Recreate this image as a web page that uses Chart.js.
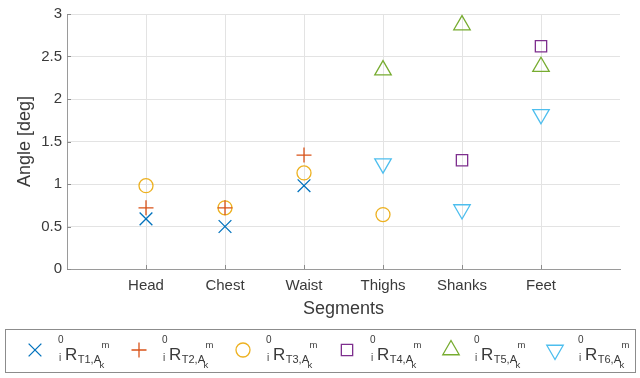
<!DOCTYPE html>
<html>
<head>
<meta charset="utf-8">
<script src="https://cdn.jsdelivr.net/npm/chart.js@4.4.1/dist/chart.umd.min.js"></script>
<style>
  html, body { margin: 0; padding: 0; background: #fff; }
  canvas { display: block; }
</style>
</head>
<body>
<canvas id="segChart" width="640" height="378"></canvas>
<script>
const segments = ['Head', 'Chest', 'Waist', 'Thighs', 'Shanks', 'Feet'];
const yTicks = [0, 0.5, 1, 1.5, 2, 2.5, 3];

const rT1 = [0.59, 0.50, 0.98, null, null, null];
const rT2 = [0.72, 0.72, 1.34, null, null, null];
const rT3 = [0.98, 0.72, 1.13, 0.64, null, null];
const rT4 = [null, null, null, null, 1.28, 2.62];
const rT5 = [null, null, null, 2.34, 2.87, 2.38];
const rT6 = [null, null, null, 1.24, 0.70, 1.82];

const seriesNames = ['T1', 'T2', 'T3', 'T4', 'T5', 'T6'];

const FONT = "'Liberation Sans', Arial, Helvetica, sans-serif";
const TXT = '#3a3a3a';

function toPoints(vals) {
    return vals.map((v, i) => ({ x: i + 1, y: v })).filter(p => p.y !== null);
}

const markerDefs = [
    { data: rT1, color: '#0072BD', style: 'crossRot', radius: 9, rotation: 0 },
    { data: rT2, color: '#D95319', style: 'cross', radius: 7.5, rotation: 0 },
    { data: rT3, color: '#EDB120', style: 'circle', radius: 7, rotation: 0 },
    { data: rT4, color: '#7E2F8E', style: 'rect', radius: 8, rotation: 0 },
    { data: rT5, color: '#77AC30', style: 'triangle', radius: 9.5, rotation: 0 },
    { data: rT6, color: '#4DBEEE', style: 'triangle', radius: 9.5, rotation: 180 }
];

// small inward tick marks like matlab axes
const innerTicks = {
    id: 'innerTicks',
    afterDatasetsDraw(chart) {
        const { ctx, scales: { x, y }, chartArea } = chart;
        ctx.save();
        ctx.strokeStyle = '#8c8c8c';
        ctx.lineWidth = 1;
        ctx.beginPath();
        segments.forEach((s, i) => {
            const px = Math.round(x.getPixelForValue(i + 1)) + 0.5;
            ctx.moveTo(px, chartArea.bottom);
            ctx.lineTo(px, chartArea.bottom - 4);
        });
        yTicks.forEach(v => {
            const py = Math.round(y.getPixelForValue(v)) + 0.5;
            ctx.moveTo(chartArea.left, py);
            ctx.lineTo(chartArea.left + 4, py);
        });
        ctx.stroke();
        ctx.restore();
    }
};

// legend drawn on the canvas so the sub/superscripts stay real text
const matlabLegend = {
    id: 'matlabLegend',
    afterDraw(chart) {
        const ctx = chart.ctx;
        ctx.save();
        ctx.strokeStyle = '#8c8c8c';
        ctx.lineWidth = 1;
        ctx.strokeRect(5.5, 329.5, 630, 43);

        const startX = 35, step = 104, my = 350;
        markerDefs.forEach((m, i) => {
            const mx = startX + i * step;
            ctx.strokeStyle = m.color;
            ctx.fillStyle = 'rgba(0,0,0,0)';
            ctx.lineWidth = 1.3;
            Chart.helpers.drawPoint(ctx, {
                pointStyle: m.style, radius: m.radius, rotation: m.rotation, borderWidth: 1.3
            }, mx, my);

            ctx.fillStyle = TXT;
            ctx.textBaseline = 'alphabetic';
            ctx.textAlign = 'left';
            const lx = mx + 23;
            ctx.font = '10px ' + FONT;
            ctx.fillText('0', lx, 343);
            ctx.fillText('i', lx + 1, 361);
            ctx.font = '17px ' + FONT;
            ctx.fillText('R', lx + 7, 360);
            const rw = ctx.measureText('R').width;
            const sub = seriesNames[i] + ',A';
            ctx.font = '11px ' + FONT;
            ctx.fillText(sub, lx + 7 + rw + 0.5, 363);
            const sw = ctx.measureText(sub).width;
            ctx.font = '9.5px ' + FONT;
            ctx.fillText('m', lx + 7 + rw + sw + 1, 348);
            ctx.fillText('k', lx + 7 + rw + sw - 1, 368);
        });
        ctx.restore();
    }
};

const ctx = document.getElementById('segChart');

new Chart(ctx, {
    type: 'scatter',
    data: {
        datasets: markerDefs.map((m, i) => ({
            label: seriesNames[i],
            data: toPoints(m.data),
            pointStyle: m.style,
            pointRadius: m.radius,
            pointHoverRadius: m.radius,
            pointRotation: m.rotation,
            borderColor: m.color,
            backgroundColor: 'rgba(0,0,0,0)',
            pointBorderWidth: 1.3,
            showLine: false
        }))
    },
    options: {
        responsive: false,
        animation: false,
        devicePixelRatio: 1,
        layout: {
            padding: { left: 0, top: 10, right: 20, bottom: 54 }
        },
        plugins: {
            legend: { display: false },
            tooltip: { enabled: false }
        },
        scales: {
            x: {
                type: 'linear',
                min: 0,
                max: 7,
                afterFit(scale) { scale.height = 55; },
                afterBuildTicks(scale) {
                    scale.ticks = [0, 1, 2, 3, 4, 5, 6, 7].map(v => ({ value: v }));
                },
                ticks: {
                    padding: 8,
                    color: TXT,
                    font: { family: FONT, size: 15 },
                    maxRotation: 0,
                    callback: v => segments[v - 1] || ''
                },
                grid: {
                    drawTicks: false,
                    color: c => (c.tick && (c.tick.value === 0 || c.tick.value === 7)) ? 'rgba(0,0,0,0)' : '#e3e3e3'
                },
                border: { color: '#9a9a9a', width: 1 },
                title: {
                    display: true,
                    text: 'Segments',
                    color: TXT,
                    font: { family: FONT, size: 18 },
                    padding: { top: 4, bottom: 4 }
                }
            },
            y: {
                min: 0,
                max: 3,
                afterFit(scale) { scale.width = 67; },
                afterBuildTicks(scale) {
                    scale.ticks = yTicks.map(v => ({ value: v }));
                },
                ticks: {
                    padding: 5,
                    color: TXT,
                    font: { family: FONT, size: 15 },
                    callback: v => String(v)
                },
                grid: {
                    drawTicks: false,
                    color: '#e3e3e3'
                },
                border: { color: '#9a9a9a', width: 1 },
                title: {
                    display: true,
                    text: 'Angle [deg]',
                    color: TXT,
                    font: { family: FONT, size: 18 },
                    padding: { top: 14, bottom: 0 }
                }
            }
        }
    },
    plugins: [innerTicks, matlabLegend]
});
</script>
</body>
</html>
